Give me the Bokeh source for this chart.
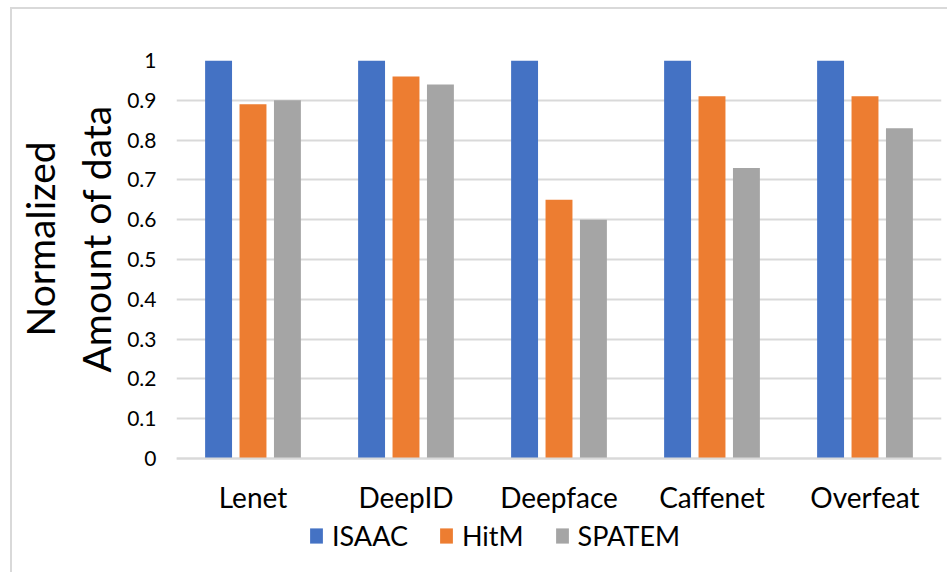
from bokeh.embed import file_html
from bokeh.models import (ColumnDataSource, FactorRange, FixedTicker, Legend,
                          LegendItem, Range1d, Title)
from bokeh.plotting import figure
from bokeh.resources import INLINE
from bokeh.transform import dodge

# Networks and normalized amount of data moved by each design
networks = ["Lenet", "DeepID", "Deepface", "Caffenet", "Overfeat"]
isaac = [1.0, 1.0, 1.0, 1.0, 1.0]
hitm = [0.89, 0.96, 0.65, 0.91, 0.91]
spatem = [0.90, 0.94, 0.60, 0.73, 0.83]

y_ticks = [0, 0.1, 0.2, 0.3, 0.4, 0.5, 0.6, 0.7, 0.8, 0.9, 1]
y_tick_labels = ["0", "0.1", "0.2", "0.3", "0.4", "0.5", "0.6", "0.7", "0.8", "0.9", "1"]

series = [("ISAAC", "#4472C4", -0.225),
          ("HitM", "#ED7D31", 0.0),
          ("SPATEM", "#A5A5A5", 0.225)]

FONT = "Lato"

source = ColumnDataSource(dict(net=networks, ISAAC=isaac, HitM=hitm, SPATEM=spatem))

# The frame runs down to the bottom edge so the category axis (pinned at y=0)
# and the legend both sit inside it; the value range starts below zero for that.
p = figure(
    width=937, height=565,
    x_range=FactorRange(factors=networks, range_padding=0),
    y_range=Range1d(-0.2915, 1),
    output_backend="svg", toolbar_location=None,
    min_border_left=162, min_border_right=8,
    min_border_top=51, min_border_bottom=0,
    margin=(7, 0, 0, 10),
)
# light chart-area frame on the left and top edges
p.styles = {"border-left": "2px solid #D9D9D9", "border-top": "2px solid #D9D9D9"}
p.outline_line_color = None
p.background_fill_color = "white"
p.border_fill_color = "white"

items = []
for name, color, offset in series:
    r = p.vbar(x=dodge("net", offset, range=p.x_range), top=name, width=0.176,
               source=source, fill_color=color, line_color=None)
    items.append(LegendItem(label=name, renderers=[r]))

# Gridlines
p.xgrid.grid_line_color = None
p.ygrid.ticker = FixedTicker(ticks=y_ticks)
p.ygrid.grid_line_color = "#D9D9D9"
p.ygrid.grid_line_width = 1.8
p.ygrid.level = "underlay"

# Y axis with tick labels
p.yaxis.ticker = FixedTicker(ticks=y_ticks)
p.yaxis.major_label_overrides = {t: s for t, s in zip(y_ticks, y_tick_labels)}
p.yaxis.axis_line_color = None
p.yaxis.major_tick_line_color = None
p.yaxis.minor_tick_line_color = None
p.yaxis.major_tick_out = 0
p.yaxis.major_tick_in = 0
p.yaxis.major_label_standoff = 20
p.yaxis.major_label_text_font = FONT
p.yaxis.major_label_text_font_size = "21px"
p.yaxis.major_label_text_color = "#000000"

# Two-line value-axis title; each line starts this many pixels above the frame bottom
for txt, lift, gap in [("Amount of data", 202, 11), ("Normalized", 238, 5)]:
    p.add_layout(Title(text=txt, align="left", offset=lift, standoff=gap,
                       text_font=FONT, text_font_size="39px",
                       text_font_style="normal", text_color="#000000"), "left")

# X axis pinned to y=0
p.xaxis.fixed_location = 0
p.xaxis.axis_line_color = "#D9D9D9"
p.xaxis.axis_line_width = 1.8
p.xaxis.major_tick_line_color = None
p.xaxis.minor_tick_line_color = None
p.xaxis.major_tick_out = 0
p.xaxis.major_label_standoff = 22
p.xaxis.major_label_text_font = FONT
p.xaxis.major_label_text_font_size = "28px"
p.xaxis.major_label_text_color = "#000000"

legend = Legend(items=items, orientation="horizontal", location=(132, 22),
                glyph_width=16, glyph_height=19, label_height=19,
                label_standoff=8, spacing=30, padding=0, margin=0,
                border_line_color=None, background_fill_alpha=0,
                label_text_font=FONT, label_text_font_size="27px",
                label_text_color="#000000")
p.add_layout(legend)

open("out.html", "w").write(file_html(p, INLINE))
